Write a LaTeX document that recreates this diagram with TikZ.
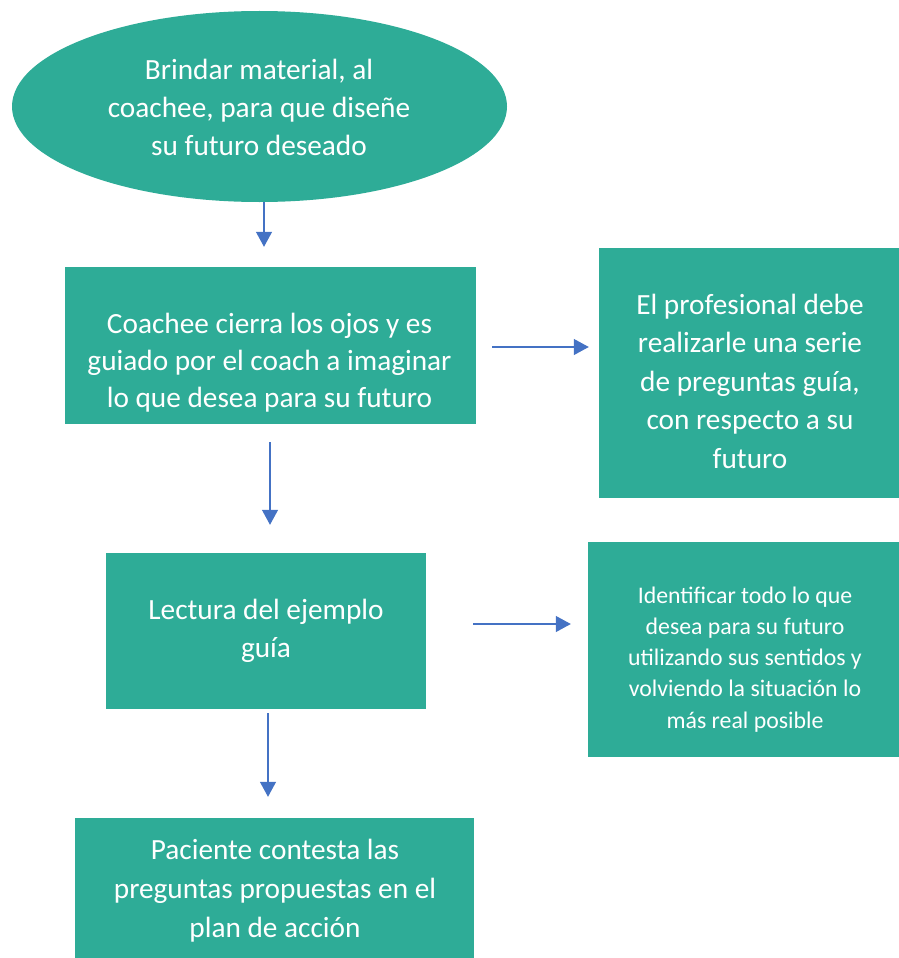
\documentclass[tikz,border=0pt]{standalone}
\usepackage{fontspec}
\setmainfont{Carlito}
\usetikzlibrary{shapes.geometric,arrows.meta,calc}
\definecolor{teal1}{RGB}{46,172,151}
\definecolor{arrblue}{RGB}{68,114,196}
\tikzset{
  shapebox/.style={rectangle, fill=teal1, draw=none, inner sep=0pt},
  shapeell/.style={ellipse, fill=teal1, draw=none, inner sep=0pt},
  txt/.style={anchor=base, inner sep=0pt, text=white},
  conn/.style={draw=arrblue, line width=1.2pt, -{Triangle[width=16pt,length=15pt]}}
}
\newcommand{\lines}[1]{\begin{tabular}[t]{@{}c@{}}#1\end{tabular}}
\begin{document}
\begin{tikzpicture}[x=1pt,y=-1pt]
\useasboundingbox (0,0) rectangle (899,958);
% shapes
\node[shapeell, minimum width=495pt, minimum height=191pt] (e1) at (259.5,106.5) {};
\node[shapebox, minimum width=411pt, minimum height=157pt] (b2) at (270.5,345.5) {};
\node[shapebox, minimum width=300pt, minimum height=250pt] (r1) at (749,373) {};
\node[shapebox, minimum width=320pt, minimum height=156pt] (b3) at (266,631) {};
\node[shapebox, minimum width=311pt, minimum height=215pt] (r2) at (743.5,649.5) {};
\node[shapebox, minimum width=399pt, minimum height=140pt] (b4) at (274.5,888) {};
% texts
\node[txt, font=\fontsize{29.3}{38.5}\selectfont] (t1) at (259,79)
  {\lines{Brindar material, al\\coachee, para que diseñe\\su futuro deseado}};
\begin{scope}
\clip (b2.north west) rectangle ($(b2.south east)+(0,-12)$);
\node[txt, font=\fontsize{29.3}{37}\selectfont] (t2) at (269.5,333)
  {\lines{Coachee cierra los ojos y es\\guiado por el coach a imaginar\\lo que desea para su futuro}};
\end{scope}
\node[txt, font=\fontsize{29.3}{38.5}\selectfont] (t3) at (750,314)
  {\lines{El profesional debe\\realizarle una serie\\de preguntas guía,\\con respecto a su\\futuro}};
\node[txt, font=\fontsize{29.3}{38}\selectfont] (t4) at (266,619)
  {\lines{Lectura del ejemplo\\guía}};
\node[txt, font=\fontsize{23.8}{31.3}\selectfont] (t5) at (745,603)
  {\lines{Identificar todo lo que\\desea para su futuro\\utilizando sus sentidos y\\volviendo la situación lo\\más real posible}};
\node[txt, font=\fontsize{29.3}{39}\selectfont] (t6) at (275,859)
  {\lines{Paciente contesta las\\preguntas propuestas en el\\plan de acción}};
% connectors
\draw[conn] ($(e1.south)+(4.5,0)$) -- ($(b2.north)+(-6.5,-20)$);
\draw[conn] ($(b2.east)+(16,1.5)$) -- ($(r1.west)+(-10,-26)$);
\draw[conn] ($(b2.south)+(-0.5,18)$) -- ($(b3.north)+(4,-28)$);
\draw[conn] ($(b3.east)+(47,-7)$) -- ($(r2.west)+(-17,-25.5)$);
\draw[conn] ($(b3.south)+(2,4)$) -- ($(b4.north)+(-6.5,-21)$);
\end{tikzpicture}
\end{document}
